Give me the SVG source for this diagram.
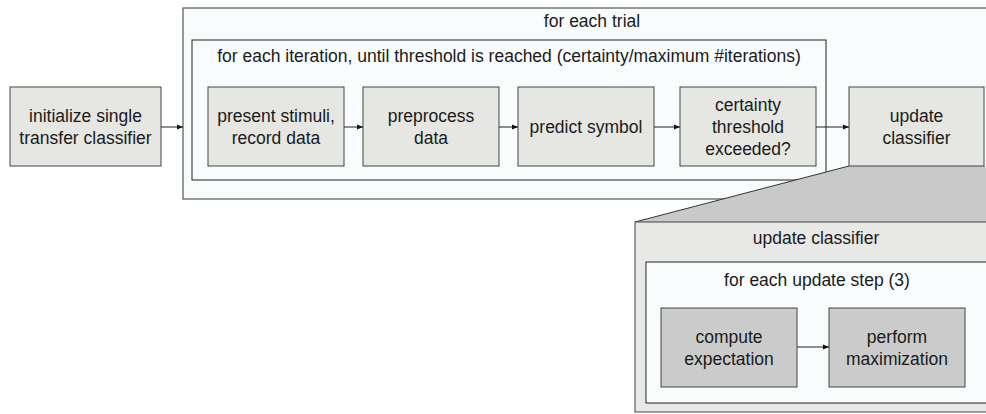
<svg xmlns="http://www.w3.org/2000/svg" width="986" height="414" viewBox="0 0 986 414">
<style>
text{font-family:"Liberation Sans",Arial,sans-serif;font-size:17.5px;fill:#1a1a1a;text-anchor:middle}
.cont{fill:#f8fcfd;stroke:#222;stroke-width:1}
.outer{fill:#f8fcfd;stroke:#555;stroke-width:1.2}
.node{fill:#e6e6e3;stroke:#444;stroke-width:1}
.dnode{fill:#cbcbcb;stroke:#444;stroke-width:1}
.conn{stroke:#222;stroke-width:1;fill:none;marker-end:url(#ah)}
</style>
<defs>
<marker id="ah" viewBox="0 0 10 10" refX="10" refY="5" markerWidth="8" markerHeight="6" markerUnits="userSpaceOnUse" orient="auto">
<path d="M0,1 L10,5 L0,9 z" fill="#111"/>
</marker>
</defs>
<g id="trial-loop">
<rect class="outer" x="183" y="8" width="820" height="191"/>
<text x="592" y="27">for each trial</text>
</g>
<g id="iteration-loop">
<rect class="cont" x="192" y="40" width="634" height="140"/>
<text x="509" y="62">for each iteration, until threshold is reached (certainty/maximum #iterations)</text>
</g>
<g id="zoom">
<polygon points="849,166 635,222 990,222 990,166" fill="#c9c9c9" stroke="none"/>
<line x1="849" y1="166" x2="635" y2="222" stroke="#333" stroke-width="1"/>
</g>
<g id="init">
<rect class="node" x="10" y="87" width="151" height="79"/>
<text x="85.5" y="122">initialize single</text>
<text x="85.5" y="144">transfer classifier</text>
</g>
<g id="present">
<rect class="node" x="208" y="87" width="136" height="79"/>
<text x="276" y="122">present stimuli,</text>
<text x="276" y="144">record data</text>
</g>
<g id="preprocess">
<rect class="node" x="363" y="87" width="136" height="79"/>
<text x="431" y="122">preprocess</text>
<text x="431" y="144">data</text>
</g>
<g id="predict">
<rect class="node" x="518" y="87" width="136" height="79"/>
<text x="586" y="133">predict symbol</text>
</g>
<g id="certainty">
<rect class="node" x="680" y="87" width="136" height="79"/>
<text x="748" y="111">certainty</text>
<text x="748" y="133">threshold</text>
<text x="748" y="155">exceeded?</text>
</g>
<g id="update">
<rect class="node" x="849" y="87" width="135" height="79"/>
<text x="916.5" y="122">update</text>
<text x="916.5" y="144">classifier</text>
</g>
<g id="update-detail">
<rect x="635" y="222" width="362" height="190" fill="#e8e8e6" stroke="#444" stroke-width="1"/>
<text x="816" y="244">update classifier</text>
</g>
<g id="update-step-loop">
<rect class="cont" x="646" y="262" width="350" height="141"/>
<text x="817" y="286">for each update step (3)</text>
</g>
<g id="expectation">
<rect class="dnode" x="661" y="308" width="136" height="79"/>
<text x="729" y="343">compute</text>
<text x="729" y="365">expectation</text>
</g>
<g id="maximization">
<rect class="dnode" x="829" y="308" width="136" height="79"/>
<text x="897" y="343">perform</text>
<text x="897" y="365">maximization</text>
</g>
<g id="connectors">
<line class="conn" x1="161" y1="127" x2="183" y2="127"/>
<line class="conn" x1="344" y1="127" x2="363" y2="127"/>
<line class="conn" x1="499" y1="127" x2="518" y2="127"/>
<line class="conn" x1="654" y1="127" x2="680" y2="127"/>
<line class="conn" x1="816" y1="127" x2="849" y2="127"/>
<line class="conn" x1="797" y1="347" x2="829" y2="347"/>
</g>
</svg>
